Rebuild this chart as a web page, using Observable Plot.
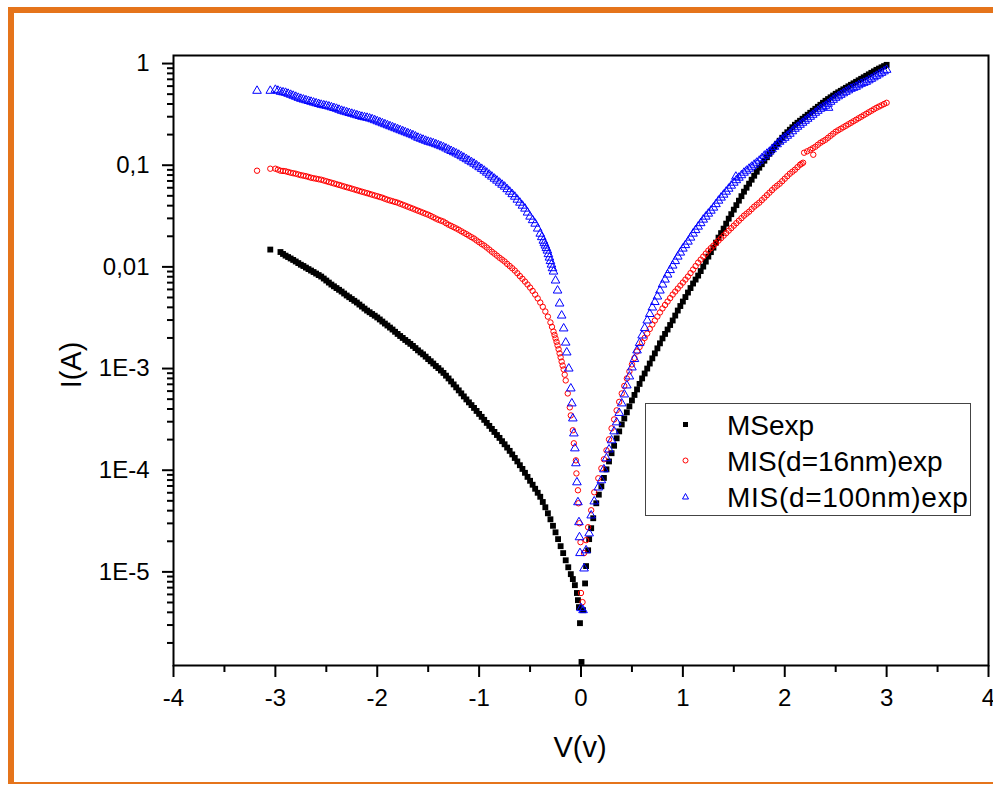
<!DOCTYPE html>
<html>
<head>
<meta charset="utf-8">
<script src="https://cdn.jsdelivr.net/npm/d3@7"></script>
<script src="https://cdn.jsdelivr.net/npm/@observablehq/plot@0.6"></script>
<style>
  html, body { margin: 0; padding: 0; background: #fff; }
  #wrap { position: relative; width: 993px; height: 785px; overflow: hidden; font-family: "Liberation Sans", Arial, sans-serif; }
  #frame { position: absolute; left: 8px; top: 7px; right: -10px; height: 777px; box-sizing: border-box;
           border-left: 6px solid #E5741B; border-top: 6px solid #E5741B; border-bottom: 2px solid #E5741B; }
  #chart { position: absolute; left: 0; top: 0; }
  #legend { position: absolute; left: 645px; top: 403px; width: 326px; height: 113px; box-sizing: border-box;
            border: 1.5px solid #444; background: #fff; }
  .row { position: absolute; left: 0; height: 30px; width: 100%; }
  .row svg { position: absolute; left: 34px; top: 8px; }
  .row span { position: absolute; left: 81px; top: 0; font-size: 28px; line-height: 30px; color: #000; white-space: nowrap; }
</style>
</head>
<body>
<div id="wrap">
  <div id="frame"></div>
  <div id="chart"></div>
  <div id="legend"></div>
</div>
<script>
// ---- data: [V (volts), I (amperes)] ----
const msexp = [
[-3.05,0.0148],[-2.95,0.0140],[-2.90,0.0129],[-2.85,0.0121],[-2.80,0.0113],[-2.75,0.0105],[-2.70,0.00984],
[-2.65,0.0092],[-2.60,0.0086],[-2.55,0.00803],[-2.50,0.00734],[-2.45,0.0067],[-2.40,0.00619],[-2.35,0.00572],
[-2.30,0.00523],[-2.25,0.00483],[-2.20,0.00446],[-2.15,0.00407],[-2.10,0.00372],[-2.05,0.00344],[-2.00,0.00318],
[-1.95,0.0029],[-1.90,0.00265],[-1.85,0.00242],[-1.80,0.00219],[-1.75,0.0020],[-1.70,0.00183],[-1.65,0.00167],
[-1.60,0.00151],[-1.55,0.00138],[-1.50,0.00124],[-1.45,0.00112],[-1.40,0.00101],[-1.35,0.000906],[-1.30,0.000799],
[-1.25,0.000698],[-1.20,0.00061],[-1.15,0.000532],[-1.10,0.000465],[-1.05,0.00041],[-1.00,0.000358],[-0.95,0.000313],
[-0.90,0.000273],[-0.85,0.000238],[-0.80,0.000208],[-0.75,0.00018],[-0.70,0.000155],[-0.65,0.000132],[-0.60,0.000112],
[-0.55,9.43e-5],[-0.50,7.87e-5],[-0.45,6.57e-5],[-0.40,5.48e-5],[-0.35,4.32e-5],[-0.30,3.29e-5],[-0.25,2.45e-5],
[-0.20,1.79e-5],[-0.15,1.30e-5],[-0.10,9.5e-6],[-0.08,8.5e-6],[-0.06,7.4e-6],[-0.04,6.2e-6],[-0.03,5.27e-6],
[-0.02,4.5e-6],[-0.01,3.13e-6],[0.005,1.3e-6],[0.02,4.2e-6],[0.04,7.7e-6],[0.05,1.14e-5],[0.07,1.63e-5],[0.08,2.1e-5],
[0.10,2.69e-5],[0.12,3.37e-5],[0.15,4.73e-5],[0.20,6.95e-5],[0.25,1.02e-4],[0.30,1.47e-4],[0.35,2.06e-4],[0.40,2.82e-4],
[0.45,3.71e-4],[0.50,4.86e-4],[0.55,6.23e-4],[0.60,8.0e-4],[0.65,1.0e-3],[0.70,1.26e-3],[0.75,1.58e-3],[0.80,1.98e-3],
[0.85,2.42e-3],[0.90,2.97e-3],[0.95,3.72e-3],[1.00,4.56e-3],[1.05,5.59e-3],[1.10,6.86e-3],[1.15,8.21e-3],[1.20,0.01007],
[1.25,0.01262],[1.30,0.01547],[1.35,0.0194],[1.40,0.02378],[1.45,0.02981],[1.50,0.03655],[1.55,0.0448],[1.60,0.05491],
[1.65,0.0658],[1.70,0.07883],[1.75,0.09451],[1.80,0.1107],[1.85,0.1297],[1.90,0.1519],[1.95,0.174],[2.00,0.1993],
[2.05,0.2233],[2.10,0.2499],[2.15,0.2736],[2.20,0.2995],[2.25,0.328],[2.30,0.3589],[2.35,0.3929],[2.40,0.4301],
[2.45,0.4656],[2.50,0.504],[2.55,0.5393],[2.60,0.5772],[2.65,0.6177],[2.70,0.6609],[2.75,0.7074],[2.80,0.757],
[2.85,0.8101],[2.90,0.867],[2.95,0.9177],[3.00,0.971],
[-2.925,0.0134],[-2.875,0.0125],[-2.825,0.0117],[-2.775,0.0109],[-2.725,0.0102],[-2.675,0.00951],[-2.625,0.0089],
[-2.575,0.00831],[-2.525,0.00768],[-2.475,0.00701],[-2.425,0.00644],[-2.375,0.00595],[-2.325,0.00547],[-2.275,0.00503],
[-2.225,0.00464],[-2.175,0.00426],[-2.125,0.00389],[-2.075,0.00358],[-2.025,0.00331],[-1.975,0.00304],[-1.925,0.00277],
[-1.875,0.00253],[-1.825,0.0023],[-1.775,0.00209],[-1.725,0.00191],[-1.675,0.00175],[-1.625,0.00159],[-1.575,0.00144],
[-1.525,0.00131],[-1.475,0.00118],[-1.425,0.00106],[-1.375,0.000957],[-1.325,0.000851],[-1.275,0.000747],[-1.225,0.000653],
[-1.175,0.00057],[-1.125,0.000497],[-1.075,0.000437],[-1.025,0.000383],[-0.975,0.000335],[-0.925,0.000292],[-0.875,0.000255],
[-0.825,0.000222],[-0.775,0.000193],[-0.725,0.000167],[-0.675,0.000143],[-0.625,0.000122],[-0.575,1.03e-4],[-0.525,8.6e-5],
[-0.475,7.2e-5],[-0.425,6.0e-5],[-0.375,4.87e-5],[-0.325,3.77e-5],[-0.275,2.84e-5],[-0.225,2.1e-5],[-0.175,1.53e-5],
[-0.125,1.11e-5],[0.175,5.75e-5],[0.225,8.4e-5],[0.275,1.22e-4],[0.325,1.74e-4],[0.375,2.41e-4],[0.425,3.23e-4],
[0.475,4.25e-4],[0.525,5.5e-4],[0.575,7.06e-4],[0.625,8.94e-4],[0.675,1.12e-3],[0.725,1.41e-3],[0.775,1.77e-3],
[0.825,2.19e-3],[0.875,2.68e-3],[0.925,3.32e-3],[0.975,4.12e-3],[1.025,5.05e-3],[1.075,6.19e-3],[1.125,7.5e-3],
[1.175,9.09e-3],[1.225,0.01127],[1.275,0.01397],[1.325,0.01732],[1.375,0.02148],[1.425,0.02662],[1.475,0.0330],
[1.525,0.04047],[1.575,0.0496],[1.625,0.0601],[1.675,0.0720],[1.725,0.0863],[1.775,0.1023],[1.825,0.1198],[1.875,0.1404],
[1.925,0.1626],[1.975,0.1862],[2.025,0.211],[2.075,0.2362],[2.125,0.2615],[2.175,0.2863],[2.225,0.3134],[2.275,0.3431],
[2.325,0.3755],[2.375,0.411],[2.425,0.4475],[2.475,0.4844],[2.525,0.5214],[2.575,0.558],[2.625,0.597],[2.675,0.639],
[2.725,0.684],[2.775,0.732],[2.825,0.783],[2.875,0.838],[2.925,0.892],[2.975,0.944]
];
const mis16 = [
[-3.18,0.0883],[-3.05,0.0924],[-3.00,0.0924],[-2.95,0.0883],[-2.90,0.0873],[-2.85,0.0844],[-2.80,0.0825],[-2.75,0.0798],
[-2.70,0.0780],[-2.65,0.0754],[-2.60,0.0737],[-2.55,0.0720],[-2.50,0.0696],[-2.45,0.0673],[-2.40,0.0651],[-2.35,0.0629],
[-2.30,0.0608],[-2.25,0.0588],[-2.20,0.0568],[-2.15,0.0549],[-2.10,0.0531],[-2.05,0.0513],[-2.00,0.0496],[-1.95,0.0479],
[-1.90,0.0458],[-1.85,0.0443],[-1.80,0.0428],[-1.75,0.0409],[-1.70,0.0391],[-1.65,0.0374],[-1.60,0.0357],[-1.55,0.0341],
[-1.50,0.0326],[-1.45,0.0308],[-1.40,0.0291],[-1.35,0.0279],[-1.30,0.0260],[-1.25,0.0246],[-1.20,0.0232],[-1.15,0.0217],
[-1.10,0.0203],[-1.05,0.0190],[-1.00,0.0175],[-0.95,0.0162],[-0.90,0.0148],[-0.85,0.0135],[-0.80,0.0123],[-0.75,0.0113],
[-0.70,0.0102],[-0.65,0.0092],[-0.60,0.00812],[-0.55,0.00717],[-0.50,0.00626],[-0.45,0.00534],[-0.40,0.00446],
[-0.35,0.00364],[-0.30,0.00284],[-0.27,0.00231],[-0.25,0.00198],[-0.23,0.00169],[-0.21,0.00141],[-0.19,0.00117],
[-0.17,0.00098],[-0.15,0.000764],[-0.13,0.000569],[-0.11,0.000415],[-0.10,0.000346],[-0.08,0.000247],[-0.07,0.000184],
[-0.05,0.000125],[-0.045,9.3e-5],[-0.03,6.35e-5],[-0.025,4.73e-5],[-0.015,3.01e-5],[-0.005,1.96e-5],[0.0,6.2e-6],
[0.015,5.04e-6],[0.03,1.53e-5],[0.05,2.05e-5],[0.07,2.75e-5],[0.10,4.04e-5],[0.13,6.07e-5],[0.17,8.33e-5],[0.20,1.044e-4],
[0.25,1.568e-4],[0.30,2.58e-4],[0.35,3.88e-4],[0.40,5.69e-4],[0.45,7.99e-4],[0.50,1.098e-3],[0.55,1.472e-3],[0.60,1.805e-3],
[0.65,2.212e-3],[0.70,2.71e-3],[0.75,3.25e-3],[0.80,3.90e-3],[0.85,4.56e-3],[0.90,5.34e-3],[0.95,6.12e-3],[1.00,7.01e-3],
[1.05,8.03e-3],[1.10,9.41e-3],[1.15,0.01102],[1.20,0.01262],[1.25,0.01446],[1.30,0.01619],[1.35,0.01813],[1.40,0.0203],
[1.45,0.02273],[1.50,0.02544],[1.55,0.02849],[1.60,0.03191],[1.65,0.03493],[1.70,0.03912],[1.75,0.04282],[1.80,0.04795],
[1.85,0.0537],[1.90,0.06013],[1.95,0.0658],[2.00,0.0737],[2.05,0.08253],[2.10,0.09033],[2.15,0.1011],[2.18,0.1058],
[2.19,0.1327],[2.25,0.142],[2.28,0.1268],[2.30,0.1519],[2.35,0.1663],[2.40,0.178],[2.45,0.1949],[2.50,0.2134],
[2.55,0.2284],[2.60,0.2443],[2.65,0.2615],[2.70,0.2799],[2.75,0.2995],[2.80,0.3206],[2.85,0.3431],[2.90,0.3671],
[2.95,0.3885],[3.00,0.4111],
[-2.975,0.0905],[-2.925,0.0878],[-2.875,0.0858],[-2.825,0.0834],[-2.775,0.0811],[-2.725,0.0789],[-2.675,0.0767],
[-2.625,0.0745],[-2.575,0.0728],[-2.525,0.0708],[-2.475,0.0684],[-2.425,0.0662],[-2.375,0.064],[-2.325,0.0618],
[-2.275,0.0598],[-2.225,0.0578],[-2.175,0.0558],[-2.125,0.054],[-2.075,0.0522],[-2.025,0.0504],[-1.975,0.0487],
[-1.925,0.0468],[-1.875,0.045],[-1.825,0.0435],[-1.775,0.0418],[-1.725,0.04],[-1.675,0.0382],[-1.625,0.0365],
[-1.575,0.0349],[-1.525,0.0333],[-1.475,0.0317],[-1.425,0.0299],[-1.375,0.0285],[-1.325,0.0269],[-1.275,0.0253],
[-1.225,0.0239],[-1.175,0.0224],[-1.125,0.021],[-1.075,0.0196],[-1.025,0.0182],[-0.975,0.0168],[-0.925,0.0155],
[-0.875,0.0141],[-0.825,0.0129],[-0.775,0.0118],[-0.725,0.0107],[-0.675,0.0097],[-0.625,0.00866],[-0.575,0.00764],
[-0.525,0.00671],[-0.475,0.0058],[-0.425,0.0049],[-0.375,0.00405],[-0.325,0.00324],[-0.285,0.00257],[-0.26,0.00214],
[-0.24,0.00183],[-0.22,0.00155],[-0.20,0.00129],[-0.18,0.00107],[-0.16,0.00087],
[0.225,1.28e-4],[0.275,2.01e-4],[0.325,3.16e-4],[0.375,4.7e-4],[0.425,6.74e-4],[0.475,9.37e-4],[0.525,1.27e-3],
[0.575,1.63e-3],[0.625,2.0e-3],[0.675,2.45e-3],[0.725,2.97e-3],[0.775,3.56e-3],[0.825,4.22e-3],[0.875,4.93e-3],
[0.925,5.72e-3],[0.975,6.55e-3],[1.025,7.5e-3],[1.075,8.69e-3],[1.125,0.01018],[1.175,0.01179],[1.225,0.01351],
[1.275,0.0153],[1.325,0.01713],[1.375,0.01918],[1.425,0.02148],[1.475,0.02405],[1.525,0.02692],[1.575,0.03015],
[1.625,0.03339],[1.675,0.03697],[1.725,0.04093],[1.775,0.04531],[1.825,0.05075],[1.875,0.05682],[1.925,0.0629],
[1.975,0.06964],[2.025,0.07799],[2.075,0.08634],[2.125,0.0956],[2.165,0.1035],[2.22,0.137],[2.275,0.1468],[2.325,0.159],
[2.375,0.172],[2.425,0.1862],[2.475,0.204],[2.525,0.2208],[2.575,0.2362],[2.625,0.2527],[2.675,0.2705],[2.725,0.2895],
[2.775,0.31],[2.825,0.3317],[2.875,0.355],[2.925,0.3776],[2.975,0.3997]
];
const mis100 = [
[-3.18,0.5393],[-3.05,0.5393],[-3.00,0.5516],[-2.95,0.5272],[-2.90,0.5155],[-2.85,0.4927],[-2.80,0.4710],[-2.75,0.4499],
[-2.70,0.4349],[-2.65,0.4205],[-2.60,0.4064],[-2.55,0.3929],[-2.50,0.3841],[-2.45,0.3713],[-2.40,0.3589],[-2.35,0.3431],
[-2.30,0.3317],[-2.25,0.3206],[-2.20,0.3099],[-2.15,0.2995],[-2.10,0.2928],[-2.05,0.2830],[-2.00,0.2705],[-1.95,0.2585],
[-1.90,0.2471],[-1.85,0.2362],[-1.80,0.2257],[-1.75,0.2158],[-1.70,0.2062],[-1.65,0.1971],[-1.60,0.1862],[-1.55,0.1780],
[-1.50,0.1701],[-1.45,0.1644],[-1.40,0.1572],[-1.35,0.1502],[-1.30,0.1420],[-1.25,0.1342],[-1.20,0.1268],[-1.15,0.1185],
[-1.10,0.1107],[-1.05,0.1034],[-1.00,0.0956],[-0.95,0.0883],[-0.90,0.0807],[-0.85,0.0737],[-0.80,0.0673],[-0.75,0.0615],
[-0.70,0.0549],[-0.65,0.0490],[-0.60,0.0428],[-0.55,0.0374],[-0.50,0.0312],[-0.45,0.0266],[-0.40,0.0212],[-0.37,0.0181],
[-0.35,0.0162],[-0.33,0.01446],[-0.31,0.01234],[-0.29,0.01053],[-0.27,0.00899],[-0.25,0.00734],[-0.23,0.00585],
[-0.21,0.00436],[-0.19,0.00332],[-0.17,0.00248],[-0.15,0.0018],[-0.14,0.00144],[-0.12,0.0010],[-0.10,6.37e-4],
[-0.09,4.54e-4],[-0.08,3.23e-4],[-0.07,2.30e-4],[-0.06,1.64e-4],[-0.05,1.17e-4],[-0.04,7.6e-5],[-0.03,4.84e-5],
[-0.02,3.08e-5],[-0.015,2.19e-5],[-0.01,1.53e-5],[0.0,4.4e-6],[0.02,4.2e-6],[0.03,1.08e-5],[0.05,1.63e-5],[0.08,2.39e-5],
[0.10,3.59e-5],[0.13,4.93e-5],[0.17,6.76e-5],[0.20,7.96e-5],[0.25,1.309e-4],[0.30,1.967e-4],[0.35,2.955e-4],[0.40,4.54e-4],
[0.45,6.82e-4],[0.50,1.025e-3],[0.55,1.506e-3],[0.60,2.114e-3],[0.65,2.969e-3],[0.70,3.983e-3],[0.75,5.11e-3],[0.80,6.70e-3],
[0.85,8.40e-3],[0.90,0.0103],[0.95,0.01262],[1.00,0.01513],[1.05,0.01772],[1.10,0.02124],[1.15,0.02488],[1.20,0.02915],
[1.25,0.03338],[1.30,0.03824],[1.35,0.0448],[1.40,0.05131],[1.45,0.05876],[1.50,0.0673],[1.52,0.0771],[1.55,0.07537],
[1.60,0.08438],[1.65,0.09238],[1.70,0.1011],[1.75,0.1107],[1.80,0.1240],[1.85,0.1357],[1.90,0.1519],[1.95,0.1701],
[2.00,0.1862],[2.05,0.2039],[2.10,0.2283],[2.15,0.2499],[2.20,0.2736],[2.25,0.2995],[2.30,0.3280],[2.35,0.3589],
[2.40,0.3841],[2.45,0.4205],[2.50,0.4603],[2.55,0.4927],[2.60,0.5272],[2.65,0.5642],[2.70,0.5903],[2.75,0.6318],
[2.80,0.6609],[2.85,0.7074],[2.90,0.7570],[2.95,0.8101],[3.00,0.8670],
[-2.975,0.54],[-2.925,0.521],[-2.875,0.504],[-2.825,0.482],[-2.775,0.46],[-2.725,0.442],[-2.675,0.428],[-2.625,0.413],
[-2.575,0.40],[-2.525,0.388],[-2.475,0.378],[-2.425,0.365],[-2.375,0.351],[-2.325,0.337],[-2.275,0.326],[-2.225,0.315],
[-2.175,0.305],[-2.125,0.296],[-2.075,0.288],[-2.025,0.277],[-1.975,0.2645],[-1.925,0.2528],[-1.875,0.2416],[-1.825,0.231],
[-1.775,0.2207],[-1.725,0.211],[-1.675,0.2016],[-1.625,0.1916],[-1.575,0.1821],[-1.525,0.174],[-1.475,0.1672],
[-1.425,0.1608],[-1.375,0.1537],[-1.325,0.1461],[-1.275,0.1381],[-1.225,0.1305],[-1.175,0.1226],[-1.125,0.1146],
[-1.075,0.107],[-1.025,0.0995],[-0.975,0.092],[-0.925,0.0845],[-0.875,0.0772],[-0.825,0.0705],[-0.775,0.0643],
[-0.725,0.0581],[-0.675,0.0519],[-0.625,0.0458],[-0.575,0.04],[-0.525,0.0342],[-0.475,0.0288],[-0.425,0.0238],
[-0.385,0.0196],[-0.36,0.0171],[-0.34,0.0153],[-0.32,0.01334],[-0.30,0.0114],[-0.28,0.0097],
[0.225,1.02e-4],[0.275,1.6e-4],[0.325,2.41e-4],[0.375,3.66e-4],[0.425,5.56e-4],[0.475,8.36e-4],[0.525,1.24e-3],
[0.575,1.78e-3],[0.625,2.5e-3],[0.675,3.44e-3],[0.725,4.51e-3],[0.775,5.85e-3],[0.825,7.5e-3],[0.875,9.3e-3],
[0.925,0.0114],[0.975,0.01382],[1.025,0.01637],[1.075,0.0194],[1.125,0.023],[1.175,0.0269],[1.225,0.0312],[1.275,0.0357],
[1.325,0.0414],[1.375,0.048],[1.425,0.0549],[1.475,0.0629],[1.525,0.0712],[1.575,0.0797],[1.625,0.0883],[1.675,0.0966],
[1.725,0.1058],[1.775,0.117],[1.825,0.1297],[1.875,0.1435],[1.925,0.1607],[1.975,0.178],[2.025,0.1948],[2.075,0.2157],
[2.125,0.2389],[2.175,0.2615],[2.225,0.2862],[2.275,0.3134],[2.325,0.343],[2.375,0.3713],[2.425,0.4019],[2.43,0.367],
[2.475,0.44],[2.525,0.476],[2.575,0.51],[2.625,0.545],[2.675,0.577],[2.725,0.611],[2.775,0.646],[2.825,0.684],
[2.875,0.732],[2.925,0.783],[2.975,0.838]
];
const seriesNames = ["MSexp", "MIS(d=16nm)exp", "MIS(d=100nm)exp"];
const xTicks = [-4, -3, -2, -1, 0, 1, 2, 3, 4];
const xMinorTicks = [-3.5, -2.5, -1.5, -0.5, 0.5, 1.5, 2.5, 3.5];
const yTicks = [1e-5, 1e-4, 1e-3, 0.01, 0.1, 1];
const yTickLabels = ["1E-5", "1E-4", "1E-3", "0,01", "0,1", "1"];
const xLabel = "V(v)";
const yLabel = "I(A)";

// ---- build ----
const toRows = arr => arr.map(([V, I]) => ({V, I}));
const yDomain = [1.2e-6, 1.2];
const yMinor = [];
for (let e = -6; e <= 0; e++) for (let k = 2; k <= 9; k++) {
  const v = k * Math.pow(10, e);
  if (v > yDomain[0] && v < yDomain[1]) yMinor.push(v);
}

const font = '"Liberation Sans", Arial, sans-serif';
const chart = Plot.plot({
  width: 993, height: 785,
  marginLeft: 173, marginRight: 5, marginTop: 55, marginBottom: 120,
  style: {fontFamily: font, fontSize: "24px", color: "#000", background: "transparent"},
  x: {domain: [-4, 4]},
  y: {type: "log", domain: yDomain},
  marks: [
    Plot.axisX({ticks: xMinorTicks, tickSize: 7, tickFormat: () => "", label: null, strokeWidth: 2}),
    Plot.axisX({ticks: xTicks, tickSize: 12, tickPadding: 11, tickFormat: d => String(d), label: null, strokeWidth: 2}),
    Plot.axisY({ticks: yMinor, tickSize: 6, tickFormat: () => "", label: null, strokeWidth: 2}),
    Plot.axisY({ticks: yTicks, tickSize: 11, tickPadding: 13, tickFormat: d => yTickLabels[yTicks.findIndex(t => Math.abs(t - d) < t * 1e-6)], label: null, strokeWidth: 2}),
    Plot.dot(toRows(msexp), {x: "V", y: "I", symbol: "square", r: 3.3, fill: "#000", stroke: "none"}),
    Plot.dot(toRows(mis16), {x: "V", y: "I", symbol: "circle", r: 2.7, fill: "none", stroke: "#ff0000", strokeWidth: 1}),
    Plot.dot(toRows(mis100), {x: "V", y: "I", symbol: "triangle", r: 3.2, fill: "none", stroke: "#0000ff", strokeWidth: 1}),
    Plot.frame({stroke: "#000", strokeWidth: 2})
  ]
});
document.getElementById("chart").appendChild(chart);

const svg = d3.select(chart);
svg.append("text").attr("x", 71).attr("y", 365).attr("transform", "rotate(-90,71,365)")
  .attr("text-anchor", "middle").attr("dy", "0.35em").attr("fill", "#000")
  .style("font-size", "29px").style("font-family", font).text(yLabel);
svg.append("text").attr("x", 580).attr("y", 747)
  .attr("text-anchor", "middle").attr("dy", "0.35em").attr("fill", "#000")
  .style("font-size", "29px").style("font-family", font).text(xLabel);

// ---- legend ----
const legend = document.getElementById("legend");
const symbols = [
  '<rect x="3" y="3" width="5" height="5" fill="#000"/>',
  '<circle cx="5.5" cy="5.5" r="2.5" fill="none" stroke="#ff0000" stroke-width="1"/>',
  '<path d="M5.5 2.5 L8.5 8 L2.5 8 Z" fill="none" stroke="#0000ff" stroke-width="1"/>'
];
seriesNames.forEach((name, i) => {
  const row = document.createElement("div");
  row.className = "row";
  row.style.top = (7 + i * 36) + "px";
  const ls = i === 2 ? "letter-spacing:0.7px;" : "";
  row.innerHTML = `<svg width="11" height="11">${symbols[i]}</svg><span style="${ls}">${name}</span>`;
  legend.appendChild(row);
});
</script>
</body>
</html>
